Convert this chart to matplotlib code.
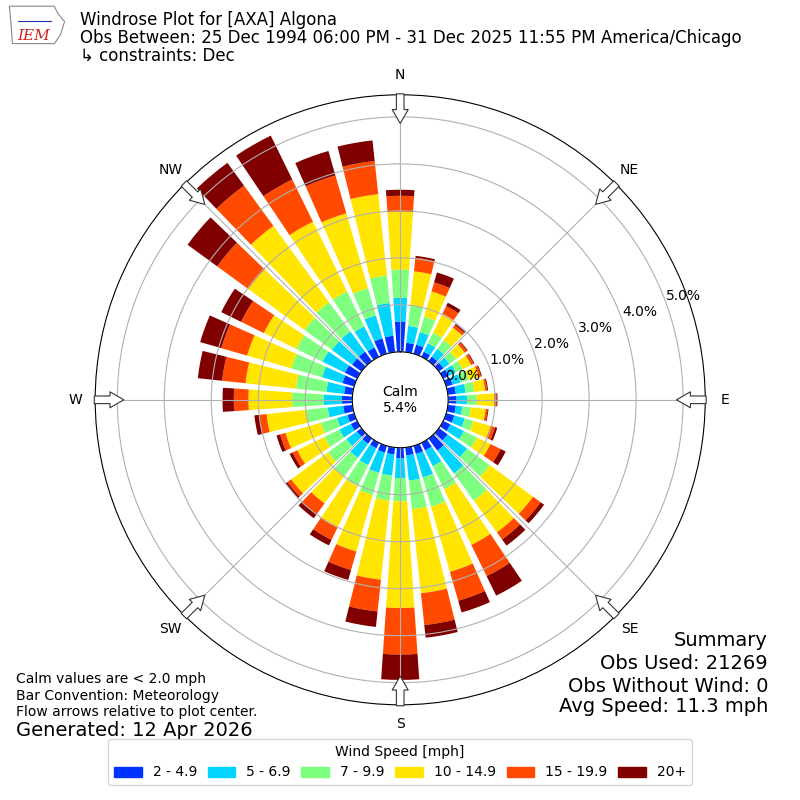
import numpy as np
import matplotlib
matplotlib.use("Agg")
import matplotlib.pyplot as plt
from matplotlib.patches import Patch, Polygon

# wind directions (deg, bin centres) and speed classes
directions = np.arange(0, 360, 10)
speed_labels = ["2 - 4.9", "5 - 6.9", "7 - 9.9", "10 - 14.9", "15 - 19.9", "20+"]
colors = ["#0033ff", "#00d4ff", "#7fff7f", "#ffe500", "#ff4a00", "#800000"]

# cumulative frequency [%] at the outer edge of each speed class, per direction
upto_5 = [0.645, 0.20, 0.20, 0.12, 0.12, 0.12, 0.13, 0.14, 0.17, 0.18, 0.17, 0.18,
          0.17, 0.23, 0.32, 0.18, 0.18, 0.17, 0.22, 0.15, 0.15, 0.13, 0.14, 0.12,
          0.15, 0.15, 0.20, 0.22, 0.18, 0.26, 0.29, 0.25, 0.25, 0.22, 0.34, 0.35]
upto_7 = [1.15, 0.56, 0.48, 0.32, 0.32, 0.28, 0.30, 0.32, 0.38, 0.40, 0.31, 0.41,
          0.49, 0.74, 0.92, 0.55, 0.70, 0.71, 0.645, 0.60, 0.60, 0.53, 0.51, 0.40,
          0.42, 0.38, 0.53, 0.61, 0.56, 0.71, 0.82, 0.78, 0.78, 0.72, 0.85, 1.05]
upto_10 = [1.75, 1.00, 0.82, 0.57, 0.55, 0.45, 0.46, 0.50, 0.56, 0.61, 0.49, 0.60,
           0.80, 1.34, 1.64, 1.10, 1.35, 1.32, 1.14, 1.14, 1.09, 1.03, 1.01, 0.88,
           0.78, 0.74, 0.99, 1.28, 1.21, 1.39, 1.44, 1.50, 1.55, 1.55, 1.45, 1.64]
upto_15 = [2.98, 1.73, 1.38, 1.02, 0.88, 0.68, 0.66, 0.72, 0.80, 0.98, 0.81, 0.98,
           1.12, 2.48, 2.47, 2.42, 2.79, 3.12, 3.41, 2.83, 2.34, 2.01, 1.71, 1.85,
           1.42, 1.52, 1.84, 2.21, 2.29, 2.37, 2.21, 2.98, 3.56, 3.20, 3.11, 3.38]
upto_20 = [3.32, 2.02, 1.58, 1.20, 0.95, 0.74, 0.72, 0.77, 0.84, 1.03, 0.85, 1.08,
           1.36, 2.68, 2.66, 3.16, 3.43, 3.80, 4.40, 3.51, 2.75, 2.30, 1.99, 1.95,
           1.53, 1.64, 2.00, 2.52, 2.79, 2.94, 2.75, 3.80, 4.62, 4.20, 3.95, 4.09]
upto_all = [3.45, 2.06, 1.80, 1.28, 0.98, 0.76, 0.74, 0.79, 0.86, 1.05, 0.87, 1.13,
            1.48, 2.77, 2.82, 3.62, 3.69, 4.07, 4.94, 3.84, 2.97, 2.43, 2.10, 2.00,
            1.60, 1.72, 2.10, 2.76, 3.31, 3.41, 3.22, 4.58, 5.22, 5.24, 4.49, 4.53]

calm_pct = 5.4
obs_used = 21269
obs_no_wind = 0
avg_speed = 11.3
rmax = 5.47

cum = np.array([upto_5, upto_7, upto_10, upto_15, upto_20, upto_all])

fig = plt.figure(figsize=(8, 8), dpi=100)
ax = fig.add_axes([0.119, 0.119, 0.7625, 0.7625], projection="polar")
ax.set_theta_zero_location("N")
ax.set_theta_direction(-1)

theta = np.radians(directions)
width = np.radians(7.8)
bottom = np.zeros(len(directions))
for i in range(6):
    ax.bar(theta, cum[i] - bottom, width=width, bottom=bottom,
           color=colors[i], linewidth=0, label=speed_labels[i])
    bottom = cum[i]

ax.set_ylim(0, rmax)
ax.set_rorigin(-1.02)
ax.set_rticks([0, 1, 2, 3, 4, 5])
ax.set_yticklabels(["%.1f%%" % v for v in [0, 1, 2, 3, 4, 5]], fontsize=10)
ax.set_rlabel_position(70)
ax.set_xticks(np.radians(np.arange(0, 360, 45)))
ax.set_xticklabels(["N", "NE", "E", "SE", "S", "SW", "W", "NW"], fontsize=10)
ax.grid(True, color="#b0b0b0", linewidth=0.8)

# flow arrows at the rim, pointing to the centre
for d in np.arange(0, 360, 45):
    ax.annotate("", xy=(np.radians(d), 4.86), xytext=(np.radians(d), 5.49),
                arrowprops=dict(arrowstyle="simple,head_length=1.0,head_width=1.15,tail_width=0.55",
                                fc="white", ec="#333333", lw=0.8, shrinkA=0, shrinkB=0),
                annotation_clip=False)

ax.text(0.5, 0.5, "Calm\n%.1f%%" % calm_pct, transform=ax.transAxes,
        ha="center", va="center", fontsize=10)

# header
fig.text(0.10, 0.975, "Windrose Plot for [AXA] Algona", fontsize=12, va="center")
fig.text(0.10, 0.953, "Obs Between: 25 Dec 1994 06:00 PM - 31 Dec 2025 11:55 PM America/Chicago",
         fontsize=12, va="center")
fig.text(0.10, 0.930, "\u21b3 constraints: Dec", fontsize=12, va="center")

# logo stand-in
lax = fig.add_axes([0.008, 0.94, 0.075, 0.055])
lax.add_patch(Polygon([[0.05, 0.95], [0.8, 0.95], [0.85, 0.8], [0.97, 0.6], [0.9, 0.3],
                       [0.8, 0.1], [0.1, 0.1], [0.08, 0.5]], closed=True,
                      fc="white", ec="#888888", lw=0.8))
lax.plot([0.2, 0.75], [0.62, 0.62], color="#2233aa", lw=0.8)
lax.text(0.45, 0.28, "IEM", color="#d02020", fontsize=11, style="italic",
         family="serif", ha="center", va="center")
lax.set_xlim(0, 1)
lax.set_ylim(0, 1)
lax.axis("off")

# footnotes
fig.text(0.02, 0.151, "Calm values are < 2.0 mph", fontsize=10, va="center")
fig.text(0.02, 0.130, "Bar Convention: Meteorology", fontsize=10, va="center")
fig.text(0.02, 0.110, "Flow arrows relative to plot center.", fontsize=10, va="center")
fig.text(0.02, 0.087, "Generated: 12 Apr 2026", fontsize=14, va="center")

fig.text(0.96, 0.200, "Summary", fontsize=14, ha="right", va="center")
fig.text(0.96, 0.171, "Obs Used: %s" % obs_used, fontsize=14, ha="right", va="center")
fig.text(0.96, 0.142, "Obs Without Wind: %s" % obs_no_wind, fontsize=14, ha="right", va="center")
fig.text(0.96, 0.117, "Avg Speed: %.1f mph" % avg_speed, fontsize=14, ha="right", va="center")

handles = [Patch(color=c) for c in colors]
fig.legend(handles, speed_labels, loc="lower center", ncol=6, title="Wind Speed [mph]",
           bbox_to_anchor=(0.5, 0.01), fontsize=10, title_fontsize=10,
           columnspacing=0.75)

fig.savefig("out.png", dpi=100)
